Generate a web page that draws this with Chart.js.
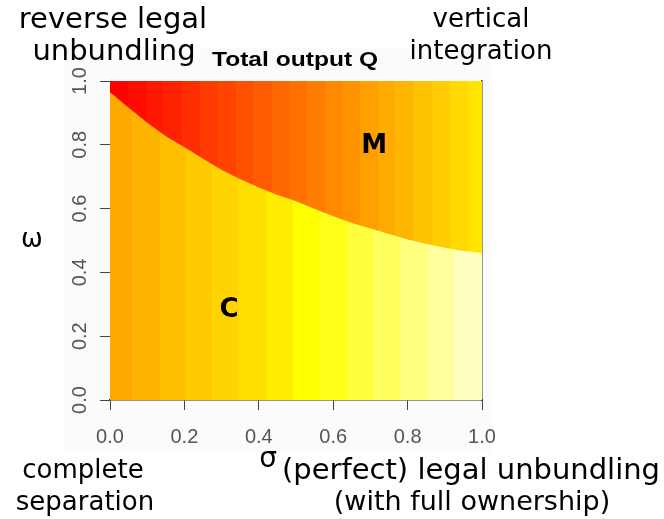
<!DOCTYPE html>
<html>
<head>
<meta charset="utf-8">
<script src="https://cdn.jsdelivr.net/npm/chart.js@4.4.1/dist/chart.umd.min.js"></script>
<style>
  html, body { margin: 0; padding: 0; background: #fff; }
  #wrap { width: 664px; height: 519px; position: relative; }
</style>
</head>
<body>
<div id="wrap"><canvas id="myChart"></canvas></div>
<script>
// boundary between the M (upper) and C (lower) regions
const sigma = [0, 0.05, 0.1, 0.15, 0.2, 0.25, 0.3, 0.35, 0.4, 0.45, 0.5,
  0.55, 0.6, 0.65, 0.7, 0.75, 0.8, 0.85, 0.9, 0.95, 1];
const omegaBoundary = [0.965, 0.916, 0.869, 0.827, 0.792, 0.756, 0.721, 0.692, 0.666, 0.643, 0.623,
  0.599, 0.576, 0.555, 0.538, 0.52, 0.503, 0.489, 0.477, 0.467, 0.461];

// colour bands of total output Q (sigma edges + heat colours)
const mBandEdges = [0, 0.048, 0.099, 0.142, 0.193, 0.242, 0.287, 0.338, 0.384, 0.435, 0.484,
  0.529, 0.578, 0.626, 0.672, 0.721, 0.766, 0.815, 0.865, 0.914, 0.963, 1];
const mBandColors = ["#FF0000", "#FF0B00", "#FF1700", "#FF2200", "#FF2E00", "#FF3900", "#FF4400",
  "#FF5000", "#FF5B00", "#FF6700", "#FF7200", "#FF7D00", "#FF8900", "#FF9400", "#FFA000",
  "#FFAB00", "#FFB600", "#FFC200", "#FFCD00", "#FFD900", "#FFE400"];
const cBandEdges = [0, 0.058, 0.134, 0.202, 0.273, 0.348, 0.419, 0.493, 0.563, 0.636,
  0.71, 0.78, 0.854, 0.925, 1];
const cBandColors = ["#FFA800", "#FFB400", "#FFBE00", "#FFC900", "#FFD400", "#FFDF00", "#FFEC00",
  "#FFFF00", "#FFFF1A", "#FFFF40", "#FFFF60", "#FFFF80", "#FFFF9E", "#FFFFC2"];

const xTicks = [0, 0.2, 0.4, 0.6, 0.8, 1.0];
const xTickLabels = ["0.0", "0.2", "0.4", "0.6", "0.8", "1.0"];
const yTicks = [0, 0.2, 0.4, 0.6, 0.8, 1.0];
const yTickLabels = ["0.0", "0.2", "0.4", "0.6", "0.8", "1.0"];

function bandGradient(chart, edges, colors) {
  const { ctx, chartArea, scales } = chart;
  if (!chartArea) return colors[0];
  const w = chartArea.right - chartArea.left;
  const g = ctx.createLinearGradient(chartArea.left, 0, chartArea.right, 0);
  colors.forEach(function (c, i) {
    const a = (scales.x.getPixelForValue(edges[i]) - chartArea.left) / w;
    const b = (scales.x.getPixelForValue(edges[i + 1]) - chartArea.left) / w;
    g.addColorStop(Math.min(1, Math.max(0, a)), c);
    g.addColorStop(Math.min(1, Math.max(0, b)), c);
  });
  return g;
}

const boundary = sigma.map(function (s, i) {
  return { x: s, y: omegaBoundary[i] };
});

const textPlugin = {
  id: "notes",
  beforeDraw(chart) {
    const ctx = chart.ctx;
    ctx.save();
    ctx.fillStyle = "#fbfbfb";
    ctx.fillRect(63, 47, 428, 405);
    ctx.restore();
  },
  afterDraw(chart) {
    const ctx = chart.ctx;
    const x = chart.scales.x;
    const y = chart.scales.y;
    ctx.save();
    ctx.fillStyle = "#000";
    ctx.textAlign = "center";
    ctx.textBaseline = "middle";

    ctx.font = "29px 'DejaVu Sans'";
    ctx.fillText("reverse legal", 113, 20);
    ctx.fillText("unbundling", 114, 52);
    ctx.fillText("(perfect) legal unbundling", 471, 471);
    ctx.font = "27px 'DejaVu Sans'";
    ctx.fillText("(with full ownership)", 472, 503);

    ctx.font = "26px 'DejaVu Sans'";
    ctx.fillText("vertical", 481, 20);
    ctx.fillText("integration", 481, 52);
    ctx.fillText("complete", 83, 471);
    ctx.fillText("separation", 85, 503);
    ctx.fillText("ω", 32, 240);
    ctx.font = "28px 'DejaVu Sans'";
    ctx.fillText("σ", 268, 460);

    ctx.font = "bold 26px 'DejaVu Sans'";
    ctx.fillText("M", x.getPixelForValue(0.71), y.getPixelForValue(0.795));
    ctx.fillText("C", x.getPixelForValue(0.32), y.getPixelForValue(0.28));

    ctx.save();
    ctx.translate(295, 60);
    ctx.scale(1.17, 1);
    ctx.font = "bold 21px 'Liberation Sans'";
    ctx.fillText("Total output Q", 0, 0);
    ctx.restore();
    ctx.restore();
  }
};

const config = {
  type: "line",
  data: {
    datasets: [
      {
        label: "C",
        data: boundary,
        fill: "start",
        backgroundColor: function (c) { return bandGradient(c.chart, cBandEdges, cBandColors); },
        borderWidth: 0,
        pointRadius: 0,
        tension: 0,
      },
      {
        label: "M",
        data: boundary,
        fill: "end",
        backgroundColor: function (c) { return bandGradient(c.chart, mBandEdges, mBandColors); },
        borderColor: function (c) { return bandGradient(c.chart, mBandEdges, mBandColors); },
        borderWidth: 1,
        pointRadius: 0,
        tension: 0,
      },
    ],
  },
  options: {
    responsive: true,
    maintainAspectRatio: false,
    animation: false,
    layout: { padding: { left: 0, right: 182, top: 81, bottom: 59 } },
    plugins: { legend: { display: false }, tooltip: { enabled: false } },
    scales: {
      x: {
        type: "linear",
        position: "bottom",
        min: 0,
        max: 1,
        afterBuildTicks: function (s) { s.ticks = xTicks.map(function (v) { return { value: v }; }); },
        afterFit: function (s) { s.height = 60; },
        grid: { drawOnChartArea: false, tickLength: 10, color: "#444", tickWidth: 1 },
        border: { display: true, color: "#333", width: 1.5 },
        ticks: {
          padding: 15,
          color: "#555",
          font: { family: "'Liberation Sans'", size: 20 },
          callback: function (v, i) { return xTickLabels[i]; },
        },
      },
      y: {
        type: "linear",
        position: "left",
        min: 0,
        max: 1,
        afterBuildTicks: function (s) { s.ticks = yTicks.map(function (v) { return { value: v }; }); },
        afterFit: function (s) { s.width = 110; },
        grid: { drawOnChartArea: false, tickLength: 10, color: "#444", tickWidth: 1 },
        border: { display: false },
        ticks: {
          padding: 6,
          minRotation: 90,
          maxRotation: 90,
          crossAlign: "center",
          color: "#555",
          font: { family: "'Liberation Sans'", size: 20 },
          callback: function (v, i) { return yTickLabels[i]; },
        },
      },
      yRight: {
        type: "linear",
        position: "right",
        min: 0,
        max: 1,
        ticks: { display: false },
        grid: { display: false, drawTicks: false },
        border: { display: true, color: "#333", width: 1.5 },
        afterFit: function (s) { s.width = 0; },
      },
    },
  },
  plugins: [textPlugin],
};

const myChart = document.getElementById("myChart");
new Chart(myChart, config);
</script>
</body>
</html>
